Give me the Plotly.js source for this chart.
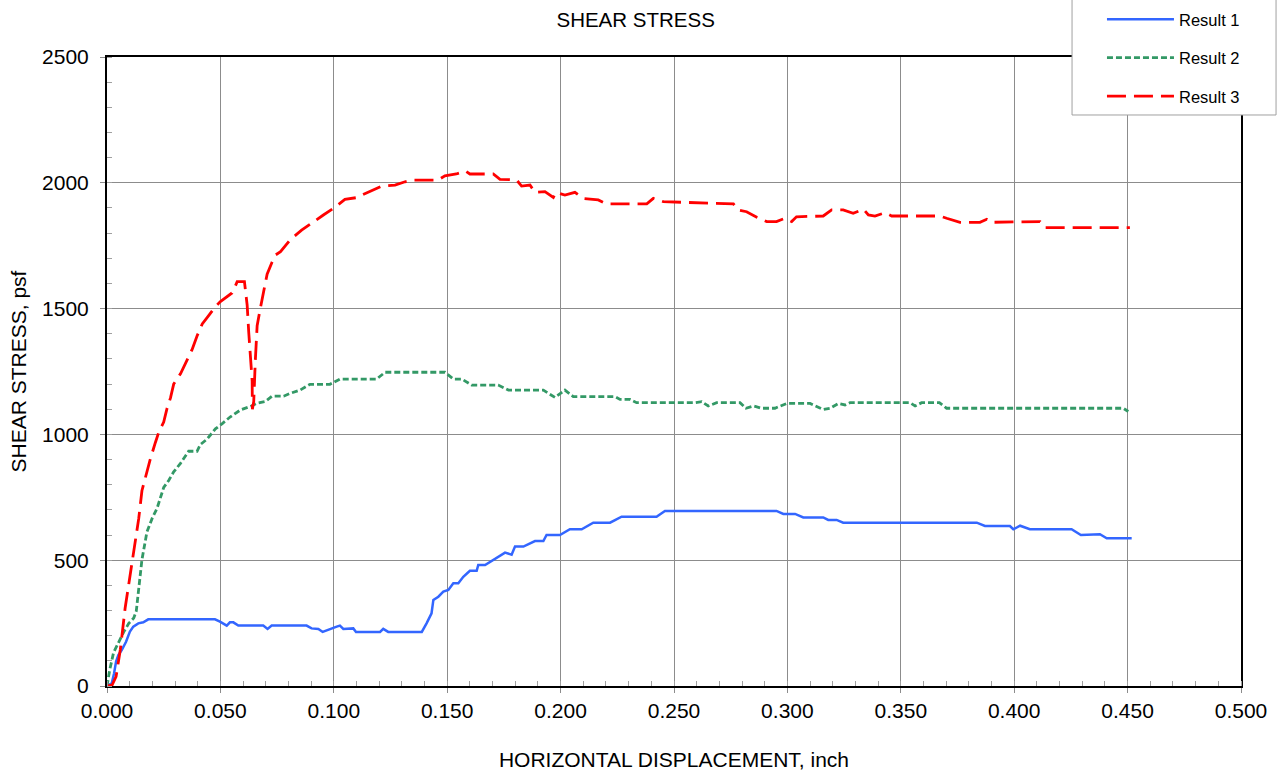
<!DOCTYPE html>
<html>
<head>
<meta charset="utf-8">
<script src="https://cdn.plot.ly/plotly-3.0.1.min.js"></script>
<style>
html,body{margin:0;padding:0;background:#fff;}
#chart{width:1279px;height:775px;}
</style>
</head>
<body>
<div id="chart"></div>
<script>
// Result 1
var x1 = [0, 0.0021, 0.0031, 0.004, 0.005, 0.0065, 0.0084, 0.0101, 0.0116, 0.0138, 0.016, 0.0182, 0.0476, 0.0498, 0.0528, 0.0542, 0.0557, 0.0579, 0.0689, 0.0708, 0.0726, 0.088, 0.0902, 0.0932, 0.0951, 0.0983, 0.1013, 0.1027, 0.1042, 0.1086, 0.1098, 0.1204, 0.1218, 0.124, 0.1388, 0.1409, 0.1431, 0.1439, 0.1461, 0.1483, 0.1505, 0.1527, 0.1549, 0.1571, 0.16, 0.163, 0.1637, 0.1667, 0.1703, 0.1755, 0.1784, 0.1799, 0.1836, 0.1887, 0.1924, 0.1938, 0.1997, 0.2041, 0.2093, 0.2144, 0.2218, 0.2269, 0.2423, 0.246, 0.2952, 0.2982, 0.3034, 0.307, 0.3158, 0.318, 0.3217, 0.3246, 0.3835, 0.3871, 0.3981, 0.3996, 0.4026, 0.4069, 0.4253, 0.4294, 0.4378, 0.4408, 0.4518];
var y1 = [0, 11, 50, 97, 123, 143, 176, 216, 236, 249, 253, 265, 265, 256, 240, 253, 253, 240, 240, 227, 240, 240, 229, 227, 215, 227, 236, 240, 227, 229, 215, 215, 227, 215, 215, 249, 289, 342, 355, 375, 382, 408, 408, 434, 458, 458, 481, 481, 501, 530, 522, 554, 554, 576, 576, 600, 600, 623, 623, 649, 649, 673, 673, 696, 696, 684, 684, 670, 670, 660, 660, 649, 649, 636, 636, 623, 637, 623, 623, 600, 603, 587, 587];

// Result 2
var x2 = [0, 0.0012, 0.0029, 0.0051, 0.0074, 0.0096, 0.0118, 0.0129, 0.014, 0.0154, 0.0176, 0.0199, 0.0221, 0.0235, 0.025, 0.0272, 0.0294, 0.0324, 0.036, 0.0397, 0.0412, 0.0441, 0.0478, 0.0507, 0.0544, 0.0588, 0.0632, 0.0662, 0.0699, 0.0728, 0.0779, 0.0807, 0.0851, 0.0895, 0.0983, 0.1027, 0.1189, 0.1226, 0.149, 0.1527, 0.1564, 0.1608, 0.1725, 0.177, 0.1836, 0.185, 0.1924, 0.1975, 0.2019, 0.2056, 0.224, 0.2262, 0.2306, 0.2335, 0.2592, 0.2622, 0.2651, 0.2688, 0.2791, 0.2817, 0.285, 0.2886, 0.2945, 0.2997, 0.31, 0.3158, 0.3188, 0.3225, 0.3254, 0.3276, 0.354, 0.3563, 0.3592, 0.367, 0.3702, 0.4481, 0.4503];
var y2 = [0, 64, 133, 174, 215, 249, 270, 297, 393, 502, 612, 666, 707, 748, 789, 817, 851, 885, 933, 933, 960, 981, 1022, 1042, 1070, 1097, 1111, 1124, 1131, 1152, 1152, 1163, 1176, 1199, 1199, 1220, 1220, 1247, 1247, 1220, 1220, 1196, 1196, 1176, 1176, 1176, 1176, 1147, 1176, 1150, 1150, 1139, 1139, 1126, 1126, 1130, 1113, 1126, 1126, 1104, 1113, 1104, 1104, 1123, 1123, 1099, 1104, 1123, 1117, 1126, 1126, 1113, 1126, 1126, 1104, 1104, 1091];

// Result 3
var x3 = [0, 0.0022, 0.004, 0.0059, 0.008, 0.0103, 0.0118, 0.014, 0.0154, 0.0176, 0.019, 0.0213, 0.0228, 0.025, 0.0265, 0.028, 0.0294, 0.0324, 0.0353, 0.0375, 0.0397, 0.042, 0.0449, 0.0478, 0.05, 0.0529, 0.0551, 0.0566, 0.0574, 0.0606, 0.0618, 0.0625, 0.0632, 0.064, 0.0641, 0.0647, 0.0654, 0.0662, 0.0676, 0.0691, 0.0706, 0.0728, 0.0743, 0.0765, 0.0807, 0.0858, 0.091, 0.0954, 0.0998, 0.1027, 0.1049, 0.110, 0.116, 0.1211, 0.127, 0.1314, 0.135, 0.146, 0.149, 0.154, 0.158, 0.160, 0.1703, 0.1733, 0.1806, 0.1828, 0.1865, 0.1887, 0.1931, 0.1968, 0.198, 0.2019, 0.2063, 0.21, 0.2166, 0.2203, 0.238, 0.2409, 0.2453, 0.2762, 0.2783, 0.282, 0.2865, 0.2909, 0.2952, 0.2989, 0.3019, 0.304, 0.3158, 0.3195, 0.3246, 0.329, 0.3335, 0.3357, 0.3386, 0.343, 0.346, 0.3673, 0.3702, 0.3761, 0.3849, 0.3879, 0.39, 0.4084, 0.4114, 0.4136, 0.451];
var y3 = [0, 3, 37, 146, 310, 447, 530, 666, 776, 858, 899, 967, 1008, 1049, 1104, 1145, 1200, 1241, 1296, 1337, 1391, 1439, 1473, 1508, 1528, 1549, 1562, 1590, 1607, 1607, 1514, 1405, 1323, 1213, 1100, 1131, 1295, 1432, 1501, 1569, 1637, 1685, 1713, 1726, 1773, 1812, 1846, 1872, 1898, 1918, 1934, 1941, 1965, 1987, 1991, 2004, 2011, 2011, 2028, 2035, 2047, 2035, 2035, 2014, 2011, 1987, 1991, 1962, 1965, 1942, 1962, 1951, 1962, 1938, 1932, 1916, 1916, 1938, 1925, 1916, 1892, 1885, 1863, 1846, 1846, 1859, 1846, 1865, 1868, 1892, 1892, 1879, 1895, 1872, 1868, 1881, 1868, 1868, 1859, 1843, 1843, 1855, 1843, 1843, 1846, 1822, 1822];

var seriesNames = ['Result 1', 'Result 2', 'Result 3'];
var xTickVals = [0, 0.05, 0.1, 0.15, 0.2, 0.25, 0.3, 0.35, 0.4, 0.45, 0.5];
var yTickVals = [0, 500, 1000, 1500, 2000, 2500];

var FONT = 'Liberation Sans, Arial, sans-serif';

var traces = [
  {x: x1, y: y1, name: seriesNames[0], mode: 'lines', legendgroup: 'g1',
   line: {color: '#3366FF', width: 2.5}},
  {x: x2, y: y2, name: seriesNames[1], mode: 'lines', legendgroup: 'g2',
   line: {color: '#339966', width: 2.8, dash: '6px,3px'}},
  {x: x3, y: y3, name: seriesNames[2], mode: 'lines', legendgroup: 'g3',
   line: {color: '#FF0000', width: 2.8, dash: '19px,8px'}}
];

var layout = {
  width: 1279, height: 775,
  margin: {l: 107, r: 38, t: 57, b: 89, autoexpand: false},
  paper_bgcolor: '#ffffff', plot_bgcolor: '#ffffff',
  font: {family: FONT, color: '#000', size: 21},
  showlegend: true,
  title: {text: 'SHEAR STRESS', font: {family: FONT, size: 20.5, color: '#000'},
          xref: 'container', yref: 'container', x: 0.497, xanchor: 'center', y: 0.975, yanchor: 'middle'},
  xaxis: {
    range: [0, 0.5], tickvals: xTickVals, tickformat: '.3f',
    showline: true, linecolor: '#000', linewidth: 2, mirror: true,
    showgrid: true, gridcolor: '#8c8c8c', gridwidth: 1,
    ticks: 'outside', ticklen: 5, tickcolor: '#8c8c8c', tickwidth: 1,
    tickfont: {family: FONT, size: 21, color: '#000'},
    minor: {dtick: 0.01, ticks: 'inside', ticklen: 5, tickcolor: '#a0a0a0', showgrid: false},
    zeroline: false,
    title: {text: 'HORIZONTAL DISPLACEMENT, inch', font: {family: FONT, size: 21, color: '#000'}, standoff: 31},
    automargin: false
  },
  yaxis: {
    range: [0, 2500], tickvals: yTickVals,
    showline: true, linecolor: '#000', linewidth: 2, mirror: true,
    showgrid: true, gridcolor: '#8c8c8c', gridwidth: 1,
    ticks: 'outside', ticklen: 5, tickcolor: '#8c8c8c', tickwidth: 1,
    ticklabelstandoff: 7,
    tickfont: {family: FONT, size: 21, color: '#000'},
    minor: {dtick: 100, ticks: 'inside', ticklen: 5, tickcolor: '#a0a0a0', showgrid: false},
    zeroline: false,
    title: {text: 'SHEAR STRESS, psf', font: {family: FONT, size: 21, color: '#000'}, standoff: 10},
    automargin: false
  },
  shapes: [{
    type: 'rect', xref: 'paper', yref: 'paper', layer: 'above',
    x0: 0.851, x1: 1.0309, y0: 0.9078, y1: 1.095,
    fillcolor: '#ffffff', line: {color: '#a0a0a0', width: 1}
  }],
  legend: {
    x: 0.8774, xanchor: 'left', y: 1.0874, yanchor: 'top',
    bgcolor: 'rgba(0,0,0,0)', borderwidth: 0,
    font: {family: FONT, size: 16.5, color: '#000'},
    traceorder: 'grouped', tracegroupgap: 14, itemwidth: 67
  }
};

Plotly.newPlot('chart', traces, layout, {displayModeBar: false, staticPlot: true});
</script>
</body>
</html>
